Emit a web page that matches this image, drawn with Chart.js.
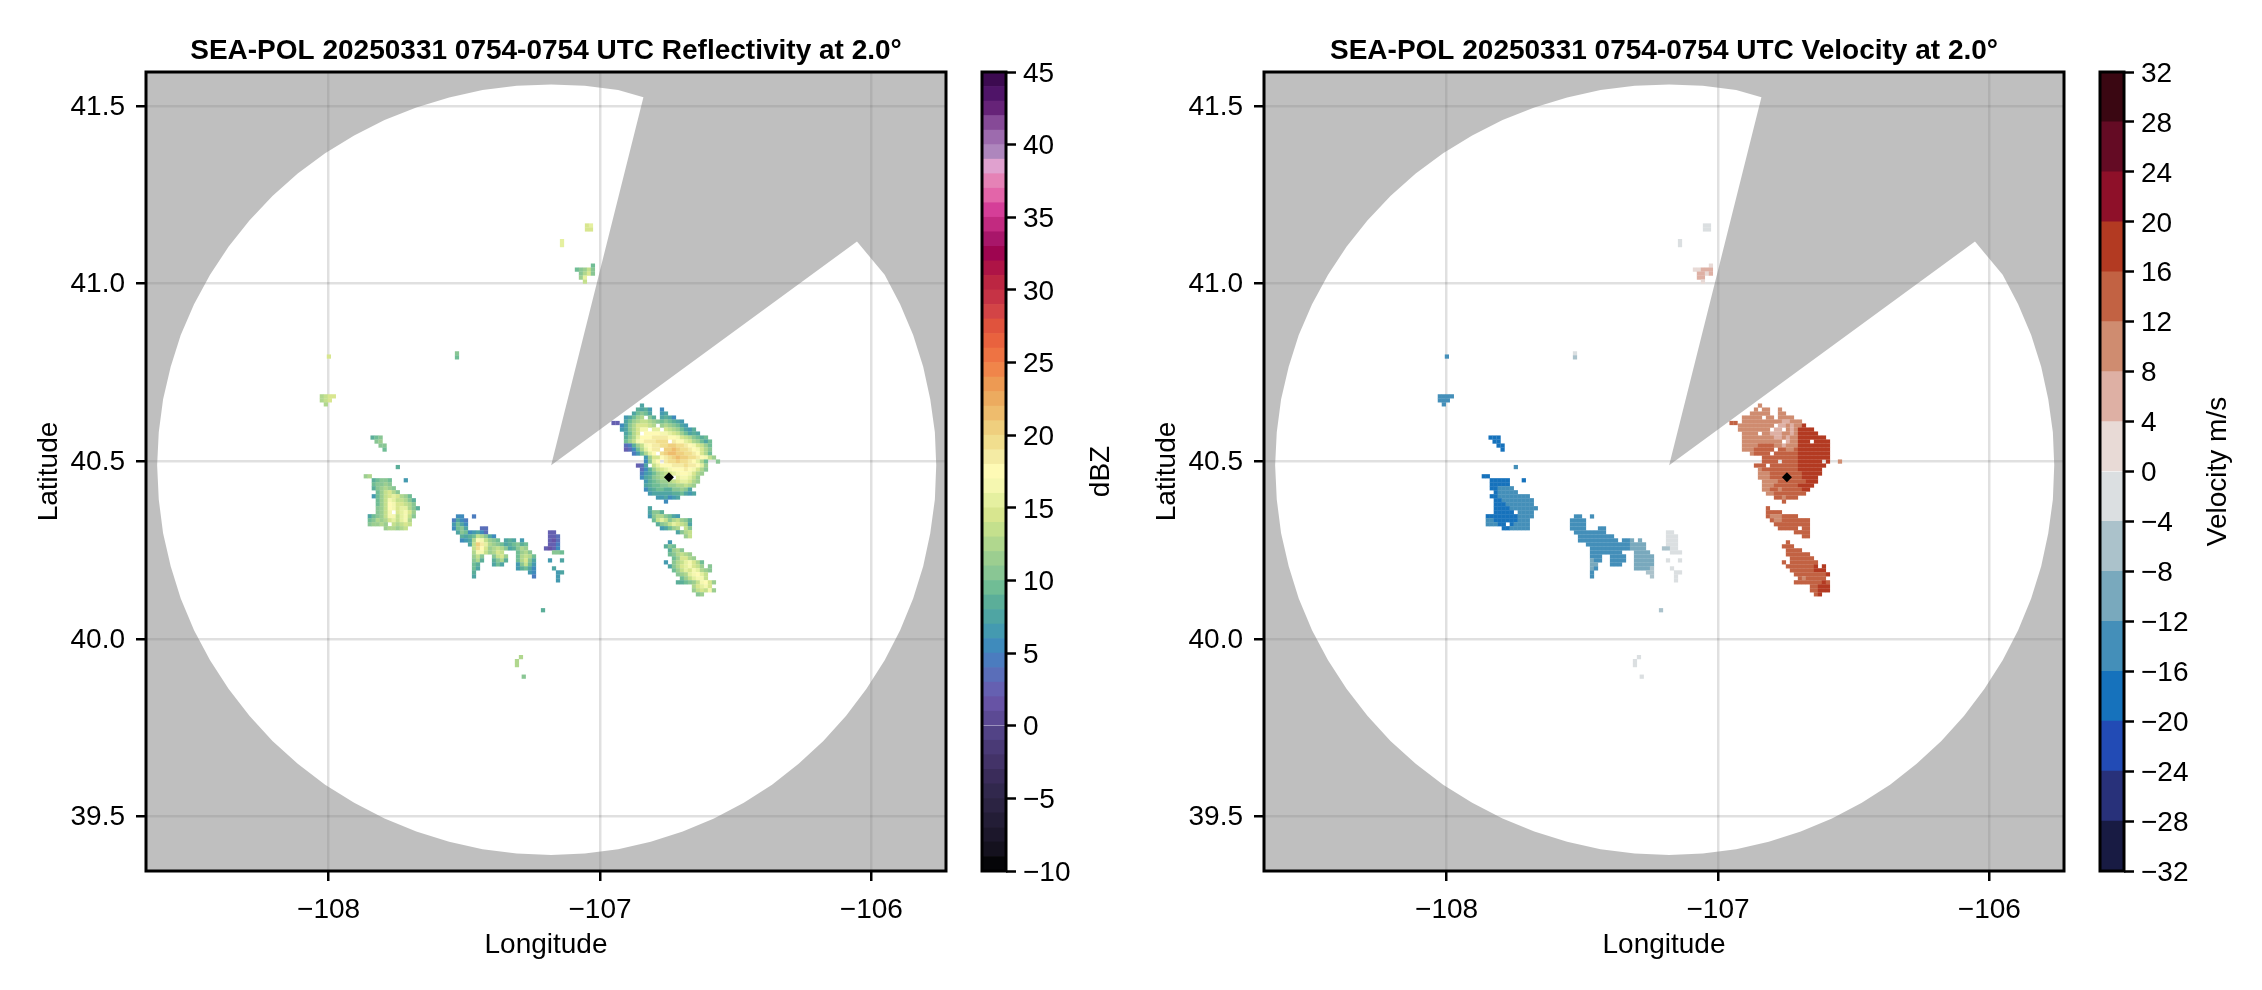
<!DOCTYPE html>
<html>
<head>
<meta charset="utf-8">
<title>SEA-POL 20250331 0754-0754 UTC</title>
<script src="https://cdn.jsdelivr.net/npm/chart.js@4"></script>
<style>
  html, body { margin: 0; padding: 0; background: #fff; }
  body { position: relative; width: 2262px; height: 990px; overflow: hidden; }
  canvas { position: absolute; top: 0; }
</style>
</head>
<body>
<canvas id="dbz-plot" width="960" height="990" style="left:0"></canvas>
<canvas id="dbz-bar" width="170" height="990" style="left:960px"></canvas>
<canvas id="vel-plot" width="960" height="990" style="left:1118px"></canvas>
<canvas id="vel-bar" width="184" height="990" style="left:2078px"></canvas>
<script>
// Axes
const lonLimits = [-108.673, -105.725];
const latLimits = [39.347, 41.596];
const lonTicks = [-108, -107, -106];
const latTicks = [39.5, 40.0, 40.5, 41.0, 41.5];
const dbzTicks = [-10, -5, 0, 5, 10, 15, 20, 25, 30, 35, 40, 45];
const velTicks = [-32, -28, -24, -20, -16, -12, -8, -4, 0, 4, 8, 12, 16, 20, 24, 28, 32];

// Colour bins, lowest first
const dbzMin = -10;
const dbzStep = 1;
const dbzColors = [
  "#050508", "#14111e", "#1c172b", "#231d36", "#2b2342", "#31284d", "#3a2c5a", "#433368", "#4a3a76", "#524386",
  "#5c4a94", "#6753a5", "#6560b1", "#5a6eb9", "#4b7cbf", "#3f8bbc", "#449ab0", "#4fa5a3", "#5bae99", "#70bd95",
  "#89c694", "#9cce90", "#b0d78e", "#c4e08d", "#d8e68f", "#e5f0a0", "#f5f7b0", "#fefab5", "#f4eba4", "#f1de8e",
  "#efcf7e", "#eebc6d", "#ecab5f", "#ed9a53", "#f0854a", "#ee7343", "#e9623e", "#e0533d", "#d34446", "#c63345",
  "#bc2642", "#ae1446", "#9e0550", "#a8166a", "#c22a80", "#d53e98", "#e365a9", "#e582b6", "#e0a1cf", "#ae86bd",
  "#9d6bae", "#864a97", "#662378", "#4f1468", "#3c0a50",
];
const velMin = -32;
const velStep = 4;
const velColors = [
  "#181b43", "#28317a", "#224bb5", "#1672bc", "#448fb9", "#79a9bd", "#abc2cb", "#dbdfe1",
  "#e8dad6", "#deb0a4", "#cf8c70", "#c26243", "#b33a22", "#8e1029", "#640b24", "#3a0712",
];

// Radar coverage outline, clockwise, starting north-west
const diskLons = [
  -108.292, -108.207, -108.114, -108.013, -107.906, -107.794, -107.677, -107.556, -107.433, -107.307,
  -107.18, -107.056, -106.933, -106.84, -107.18, -106.053, -105.951, -105.894, -105.846, -105.809,
  -105.783, -105.766, -105.761, -105.766, -105.783, -105.809, -105.846, -105.894, -105.951, -106.018,
  -106.093, -106.177, -106.268, -106.366, -106.47, -106.58, -106.695, -106.813, -106.933, -107.056,
  -107.18, -107.307, -107.433, -107.556, -107.677, -107.794, -107.906, -108.013, -108.114, -108.207,
  -108.292, -108.369, -108.437, -108.496, -108.545, -108.582, -108.61, -108.626, -108.632, -108.626,
  -108.61, -108.582, -108.545, -108.496, -108.437, -108.369, -108.292,
];
const diskLats = [
  41.178, 41.247, 41.31, 41.367, 41.417, 41.461, 41.496, 41.524, 41.545, 41.557,
  41.561, 41.557, 41.545, 41.525, 40.489, 41.119, 41.025, 40.942, 40.856, 40.766,
  40.675, 40.582, 40.489, 40.393, 40.298, 40.205, 40.114, 40.025, 39.94, 39.86,
  39.784, 39.713, 39.649, 39.59, 39.539, 39.495, 39.458, 39.429, 39.408, 39.396,
  39.392, 39.396, 39.408, 39.429, 39.458, 39.495, 39.539, 39.59, 39.649, 39.713,
  39.784, 39.86, 39.94, 40.025, 40.114, 40.205, 40.298, 40.393, 40.489, 40.582,
  40.675, 40.766, 40.856, 40.942, 41.025, 41.104, 41.178,
];

// Radar site
const siteLon = [-106.746];
const siteLat = [40.455];

// Reflectivity: a = 0 dBZ, b = 1 dBZ ... Velocity: a = -18, b = -14 ... j = 18 m/s.
const cellLonStep = 0.01474;
const cellLatStep = 0.01125;

const mainDbz = [
  ".....h",
  "....ihig..f",
  "...hjkjh..gh",
  ".ghjlm.ki.hihf",
  ".hjlmnnmlkjkjihg",
  "fhkmooonm.lmlkjhg",
  "ghkmoqq.pp.onmljhgi",
  ".hjmo.rrrrqqponljhih",
  ".ikmprrrssssrrqonmkjij",
  ".jlnqrsssttt.srrpomljhj",
  ".deilnqrssttuuttsrqonlj",
  ".cdfjmprss.uuvuttsrqomk",
  "...egjmpr.tuvvuuttsromj",
  "......gloorstuvuuttsrqnl",
  "......fkpr.sttuttsrpmj..k",
  "....cdh.nprrrssstssrpl",
  ".....dfilnopqrrrsrqomk",
  ".....eghjlmnopqrrqoml",
  ".....fhiklmmn.pqqpnl",
  "......gijkllmnoppoml",
  "......hijjkkllmmnml",
  "......fhijjiikklkh",
  ".......ghhhhhiijhgh",
  ".........gghfgh",
  "...........f",
];
const mainVel = [
  ".....h",
  "....h.hh..h",
  "...hhhhh..hh",
  ".hhhhh.hh.hhhh",
  ".hhhhhhhhhhgghhh",
  "hhhhhhhhh.gghghhj",
  "hhhhhhhh.gg.hghjjjj",
  ".hhhh.hhggghhghjjjjj",
  ".hhhhhhhhgghghhjjjjjjj",
  ".hhhhhhhhhh.ghhjjj.jjjj",
  ".hhhhiiiihhghhhjjjjjjjj",
  ".hhhiiiii.iihhijjjjjjjj",
  "...hiiii.iiiiiijjjjjjjj",
  "......iiiiiiiiijjjjjjjj",
  "......iiii.iiiijjjjjj.j..h",
  "....iii.iiiiiiijjjjjjj",
  ".....hiiiiiiiiijjjjjj",
  ".....hhhiiiiiiiijjjjj",
  ".....hhhiiii.iiijjjj",
  "......hhhhiiiiiiijjj",
  "......hhhiiiiiijjjj",
  "......hhiihiiiiijj",
  ".......hhiiiiiiii",
  ".........iihiii",
  "...........i",
];

const westDbz = [
  "lm",
  "..ijkkj...g",
  "..jkklk",
  "..iklmlk",
  "...jlnomk",
  "..gjlnopomlj",
  "...jlnqpnnmki",
  "...jlnrqoonmk",
  "...klnrqoppmki",
  "...klnq.opqol",
  ".hjklnqqnpqnk",
  ".jkmlmopnpqm",
  ".kllml.nmnon",
  ".....lmmlmn",
];
const westVel = [
  "aa",
  "..aaaaa...a",
  "..aaaaa",
  "..aabbbb",
  "...abbbbb",
  "..aabbbbbbbb",
  "...aabbbbbbbb",
  "...aaabbbbbbb",
  "...aaaabbbbbbb",
  "...aaaaa.bbbb",
  ".aaaaaaaabbbb",
  ".bbaaaaaabbb",
  ".bbbaa.abbbb",
  ".....aabbbbb",
];

const chainDbz = [
  ".ff..e",
  "ehfe",
  "gjhf",
  "fjkh...dd",
  ".hkjfghfd...............cc",
  "..ihijnmkhf.............ccd",
  "..fghmrqnlkj.hih.g......cbd",
  "....hnuspmlkjhijkij.....cce",
  ".....ntrolmnmkhikml....cbcf",
  ".....mqqnlmon...jlmk.....kkj",
  ".....lnk..knol..jmnmj",
  ".....kmi..ikmi..jmokh...g..h",
  ".....ji...hjh...gknjg",
  ".....jh.........gijhf....h",
  ".....i.............gf.....gh",
  ".....h..............e.....g",
  "..........................g",
];
const chainVel = [
  ".bb..b",
  "bbbb",
  "bbbb",
  "bbbb...bb",
  ".bbbbbbbb...............ee",
  "..bbbbbbbbb.............eee",
  "..bbbbbbbbbb.bbc.c......eee",
  "....bbbbbbbbbbbcccc.....eee",
  ".....bbbbbbbbbbcccc....ddee",
  ".....bbbbbbbb...cccc.....eee",
  ".....bbb..bbbb..ccccc",
  ".....cbb..bbbb..ccccc...e..e",
  ".....cc...bbb...ccccc",
  ".....cb.........ccccd....e",
  ".....b.............dd.....ee",
  ".....b..............d.....e",
  "..........................e",
];

const southDbz = [
  "h",
  "hkki",
  "gkmmkjhg",
  ".jnpnkmnlki",
  "..iklnponmh",
  "...ghjlm.nk",
  ".......hkmn",
  ".........ln",
];
const southVel = [
  "i",
  "iiii",
  "ihhhiiii",
  ".ihhiiiiiii",
  "..iiiiiiiii",
  "...iiiii.ii",
  ".......iiii",
  ".........ii",
];

const tailDbz = [
  ".g",
  "ikj",
  ".ilmk",
  ".jkmnml",
  "..jlooml",
  "g.kmnpqomj",
  ".hkmopqonl.k",
  "..jlnpoqpmlk",
  "...klmpqrpn",
  "....jlnpqqn",
  "...iijklnqrol",
  ".......mopqo",
  ".......lnonql",
  "........kl",
];
const tailVel = [
  ".i",
  "iii",
  ".iiii",
  ".iiiiii",
  "..iiiiii",
  "i.iiiiiii",
  ".iiiiiiij.j",
  "..iiiiiijjj",
  "...iiiiiiiij",
  "....ihiiiii",
  "...iiiiiiiji",
  ".......iijjj",
  ".......iijjj",
  "........ij",
];

// Echoes: [west lon, north lat, reflectivity rows, velocity rows]
const echoes = [
  [-106.919, 40.657, mainDbz, mainVel],
  [-107.863, 40.458, westDbz, westVel],
  [-107.538, 40.345, chainDbz, chainVel],
  [-106.816, 40.368, southDbz, southVel],
  [-106.757, 40.272, tailDbz, tailVel],
  [-108.025, 40.683, ["mnoo", "mno", ".m"], ["bbbb", "bbb", ".b"]],
  [-107.838, 40.567, ["ijk", ".kl", "..kk", "...j"], ["aaa", ".aa", "..aa", "...a"]],
  [-107.21, 40.081, ["i"], ["d"]],
  [-107.306, 39.949, [".m", "m", "m"], [".e", "e", "e"]],
  [-107.281, 39.894, ["k"], ["e"]],
  [-107.048, 41.164, ["op", "oo"], ["ee", "ee"]],
  [-107.085, 41.051, ["....j", "jklnk", ".kmok", ".lp", "..n"], ["....f", "ffggg", ".ggfg", ".gg", "..f"]],
  [-107.14, 41.12, ["p", "p"], ["e", "e"]],
  [-107.999, 40.795, ["o"], ["b"]],
  [-107.527, 40.804, ["k", "j"], ["e", "d"]],
  [-106.95, 40.608, ["cc"], ["ii"]],
  [-107.745, 40.484, ["i"], ["b"]],
];

Chart.defaults.font.family = '"Liberation Sans", Arial, sans-serif';
Chart.defaults.color = "#000";
Chart.defaults.animation = false;

const tickFont = { size: 28 };
const dash = (v, digits) => v.toFixed(digits).replace("-", "\u2212");

// Decode the letter rows into scatter points with a colour for each
function buildCells(rowIndex, toValue, toColor) {
  const points = [];
  const colors = [];
  echoes.forEach((echo) => {
    const rows = echo[rowIndex];
    rows.forEach((row, r) => {
      [...row].forEach((ch, c) => {
        if (ch === ".") return;
        points.push({ x: echo[0] + c * cellLonStep, y: echo[1] - r * cellLatStep });
        colors.push(toColor(toValue(ch.charCodeAt(0) - 97)));
      });
    });
  });
  return { points, colors };
}

// Black frame on all four sides of the plot
const framePlugin = {
  id: "frame",
  afterDraw(chart) {
    const { ctx, chartArea: a } = chart;
    ctx.save();
    ctx.strokeStyle = "#000";
    ctx.lineWidth = 3;
    ctx.strokeRect(a.left, a.top, a.right - a.left, a.bottom - a.top);
    ctx.restore();
  },
};

// Colorbar label reads bottom to top, which the right axis title cannot do
const sideLabelPlugin = {
  id: "sideLabel",
  afterDraw(chart, args, opts) {
    const { ctx, chartArea: a } = chart;
    ctx.save();
    ctx.translate(opts.x, (a.top + a.bottom) / 2);
    ctx.rotate(-Math.PI / 2);
    ctx.font = '28px "Liberation Sans", Arial, sans-serif';
    ctx.fillStyle = "#000";
    ctx.textAlign = "center";
    ctx.textBaseline = "middle";
    ctx.fillText(opts.text, 0, 0);
    ctx.restore();
  },
};

function drawPlot(id, title, cells) {
  // Mask: plot rectangle with the coverage outline cut out of it
  const mask = [
    { x: lonLimits[0], y: latLimits[1] },
    { x: lonLimits[0], y: latLimits[0] },
    { x: lonLimits[1], y: latLimits[0] },
    { x: lonLimits[1], y: latLimits[1] },
    { x: lonLimits[0], y: latLimits[1] },
    ...diskLons.map((x, i) => ({ x, y: diskLats[i] })),
    { x: lonLimits[0], y: latLimits[1] },
  ];
  new Chart(document.getElementById(id), {
    type: "scatter",
    data: {
      datasets: [
        {
          data: siteLon.map((x, i) => ({ x, y: siteLat[i] })),
          pointStyle: "rectRot",
          pointRadius: 5,
          pointBackgroundColor: "#000",
          pointBorderWidth: 0,
        },
        {
          data: cells.points,
          pointStyle: "rect",
          pointRadius: 3,
          pointBackgroundColor: cells.colors,
          pointBorderWidth: 0,
        },
        {
          data: mask,
          showLine: true,
          fill: "shape",
          backgroundColor: "rgba(127,127,127,0.5)",
          borderColor: "transparent",
          pointRadius: 0,
        },
      ],
    },
    options: {
      responsive: false,
      devicePixelRatio: 1,
      layout: { padding: { right: 14 } },
      plugins: {
        legend: { display: false },
        tooltip: { enabled: false },
        title: {
          display: true,
          text: title,
          fullSize: false,
          font: { size: 28, weight: "bold" },
          padding: { top: 34, bottom: 4.4 },
        },
      },
      scales: {
        x: {
          type: "linear",
          min: lonLimits[0],
          max: lonLimits[1],
          afterBuildTicks: (s) => { s.ticks = lonTicks.map((value) => ({ value })); },
          afterFit: (s) => { s.height = 119; },
          ticks: { font: tickFont, padding: 12, maxRotation: 0, callback: (v) => dash(v, 0) },
          grid: { color: "rgba(0,0,0,0.12)", lineWidth: 2.5, tickColor: "#000", tickWidth: 2.5, tickLength: 10 },
          border: { display: false },
          title: { display: true, text: "Longitude", font: tickFont, padding: { bottom: 28, top: 0 } },
        },
        y: {
          min: latLimits[0],
          max: latLimits[1],
          afterBuildTicks: (s) => { s.ticks = latTicks.map((value) => ({ value })); },
          afterFit: (s) => { s.width = 146; },
          ticks: { font: tickFont, padding: 11, labelOffset: 1, callback: (v) => dash(v, 1) },
          grid: { color: "rgba(0,0,0,0.12)", lineWidth: 2.5, tickColor: "#000", tickWidth: 2.5, tickLength: 10 },
          border: { display: false },
          title: { display: true, text: "Latitude", font: tickFont, padding: { top: 32, bottom: 0 } },
        },
      },
    },
    plugins: [framePlugin],
  });
}

function drawColorbar(id, colors, lowest, step, ticks, label, axisWidth, labelX) {
  new Chart(document.getElementById(id), {
    type: "bar",
    data: {
      labels: [label],
      datasets: colors.map((color, i) => ({
        data: [[lowest + i * step, lowest + (i + 1) * step]],
        backgroundColor: color,
        barPercentage: 1,
        categoryPercentage: 1,
      })),
    },
    options: {
      responsive: false,
      devicePixelRatio: 1,
      layout: { padding: { top: 72, bottom: 119, left: 22 } },
      plugins: {
        legend: { display: false },
        tooltip: { enabled: false },
        sideLabel: { text: label, x: labelX },
      },
      scales: {
        x: { stacked: true, display: false },
        y: {
          position: "right",
          min: ticks[0],
          max: ticks[ticks.length - 1],
          afterBuildTicks: (s) => { s.ticks = ticks.map((value) => ({ value })); },
          afterFit: (s) => { s.width = axisWidth; },
          ticks: { font: tickFont, padding: 7, labelOffset: 2, callback: (v) => dash(v, 0) },
          grid: { drawOnChartArea: false, tickColor: "#000", tickWidth: 2.5, tickLength: 10 },
          border: { display: false },
        },
      },
    },
    plugins: [framePlugin, sideLabelPlugin],
  });
}

document.addEventListener("DOMContentLoaded", () => {
  const dbzCells = buildCells(2, (n) => n, (v) => dbzColors[(v - dbzMin) / dbzStep]);
  const velCells = buildCells(3, (n) => n * 4 - 18, (v) => velColors[Math.floor((v - velMin) / velStep)]);
  drawPlot("dbz-plot", "SEA-POL 20250331 0754-0754 UTC Reflectivity at 2.0\u00b0", dbzCells);
  drawPlot("vel-plot", "SEA-POL 20250331 0754-0754 UTC Velocity at 2.0\u00b0", velCells);
  drawColorbar("dbz-bar", dbzColors, dbzMin, dbzStep, dbzTicks, "dBZ", 124, 141);
  drawColorbar("vel-bar", velColors, velMin, velStep, velTicks, "Velocity m/s", 138, 140);
});
</script>
</body>
</html>
